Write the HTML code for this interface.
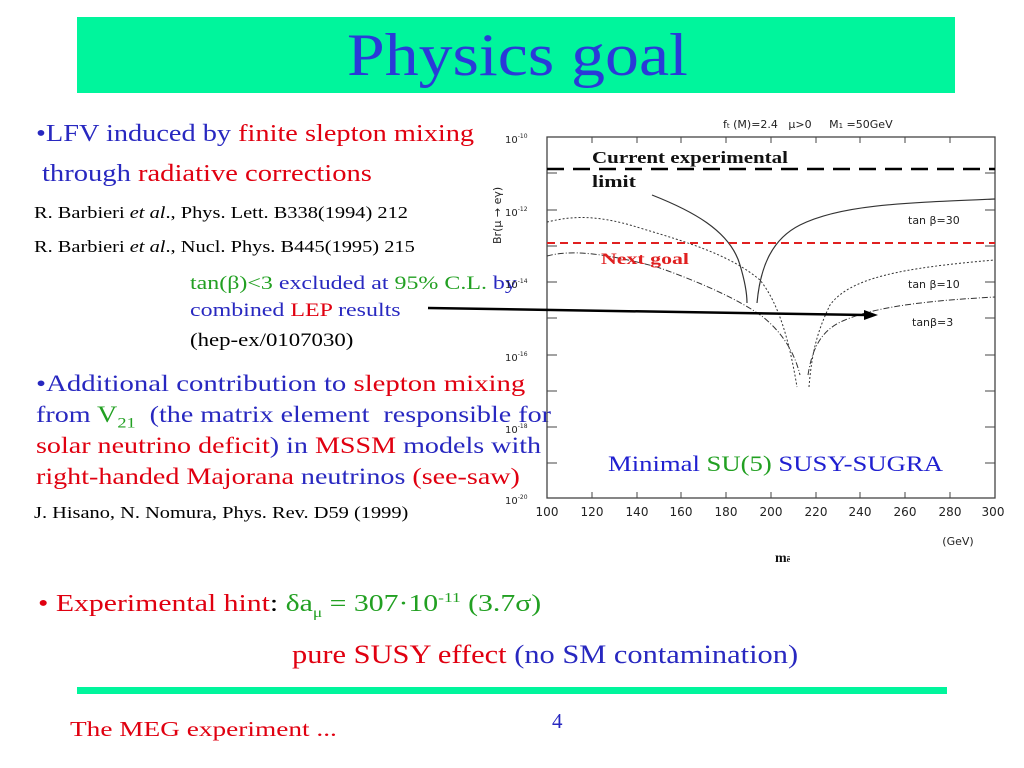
<!DOCTYPE html>
<html><head><meta charset="utf-8"><style>
body{margin:0;width:1024px;height:768px;background:#fff;position:relative;overflow:hidden;font-family:"Liberation Serif",serif}
.t{position:absolute;white-space:nowrap;line-height:1;transform-origin:0 0}
.b{color:#2828c0}.r{color:#e00010}.g{color:#22a022}.k{color:#000}
</style></head><body>
<div style="position:absolute;left:77px;top:17px;width:878px;height:76px;background:#00f59c"></div>
<div class="t" style="left:347px;top:25px;font-size:60px;color:#2a3ad8;transform:scaleX(1.13)">Physics goal</div>

<div class="t" style="left:36px;top:122px;font-size:24px;transform:scaleX(1.18)"><span class="b">•LFV induced by </span><span class="r">finite slepton mixing</span></div>
<div class="t" style="left:42px;top:162px;font-size:24px;transform:scaleX(1.19)"><span class="b">through </span><span class="r">radiative corrections</span></div>
<div class="t k" style="left:34px;top:204px;font-size:17px;transform:scaleX(1.2)">R. Barbieri <i>et al</i>., Phys. Lett. B338(1994) 212</div>
<div class="t k" style="left:34px;top:238px;font-size:17px;transform:scaleX(1.2)">R. Barbieri <i>et al</i>., Nucl. Phys. B445(1995) 215</div>
<div class="t" style="left:190px;top:274px;font-size:19px;transform:scaleX(1.26)"><span class="g">tan(β)&lt;3</span><span class="b"> excluded at </span><span class="g">95% C.L.</span><span class="b"> by</span></div>
<div class="t" style="left:190px;top:301px;font-size:19px;transform:scaleX(1.26)"><span class="b">combined </span><span class="r">LEP</span><span class="b"> results</span></div>
<div class="t k" style="left:190px;top:331px;font-size:19px;transform:scaleX(1.2)">(hep-ex/0107030)</div>
<div class="t" style="left:36px;top:372px;font-size:23px;transform:scaleX(1.25)"><span class="b">•Additional contribution to </span><span class="r">slepton mixing</span></div>
<div class="t" style="left:36px;top:403px;font-size:23px;transform:scaleX(1.22)"><span class="b">from </span><span class="g">V<sub style="font-size:15px">21</sub></span><span class="b">&nbsp; (the matrix element&nbsp; responsible for</span></div>
<div class="t" style="left:36px;top:434px;font-size:23px;transform:scaleX(1.22)"><span class="r">solar neutrino deficit</span><span class="b">) in </span><span class="r">MSSM</span><span class="b"> models with</span></div>
<div class="t" style="left:36px;top:465px;font-size:23px;transform:scaleX(1.22)"><span class="r">right-handed Majorana </span><span class="b">neutrinos </span><span class="r">(see-saw)</span></div>
<div class="t k" style="left:34px;top:504px;font-size:17px;transform:scaleX(1.2)">J. Hisano, N. Nomura, Phys. Rev. D59 (1999)</div>

<svg style="position:absolute;left:0;top:0" width="1024" height="768" font-family="DejaVu Sans, sans-serif">
<g fill="none" stroke="#444" stroke-width="1.3">
<rect x="547" y="137" width="448" height="361"/>
<g stroke-width="1">
<path d="M547,137h10M547,173h10M547,210h10M547,246h10M547,282h10M547,318h10M547,355h10M547,391h10M547,427h10M547,463h10"/>
<path d="M995,173h-10M995,210h-10M995,246h-10M995,282h-10M995,318h-10M995,355h-10M995,391h-10M995,427h-10M995,463h-10"/>
<path d="M592,498v-6M637,498v-6M681,498v-6M726,498v-6M771,498v-6M816,498v-6M860,498v-6M905,498v-6M950,498v-6"/>
<path d="M592,137v6M637,137v6M681,137v6M726,137v6M771,137v6M816,137v6M860,137v6M905,137v6M950,137v6"/>
</g>
</g>
<g font-size="10" fill="#222">
<text x="505" y="143">10<tspan dy="-5" font-size="6">-10</tspan></text>
<text x="505" y="216">10<tspan dy="-5" font-size="6">-12</tspan></text>
<text x="505" y="288">10<tspan dy="-5" font-size="6">-14</tspan></text>
<text x="505" y="361">10<tspan dy="-5" font-size="6">-16</tspan></text>
<text x="505" y="433">10<tspan dy="-5" font-size="6">-18</tspan></text>
<text x="505" y="504">10<tspan dy="-5" font-size="6">-20</tspan></text>
</g>
<g font-size="12" fill="#222" text-anchor="middle">
<text x="547" y="516">100</text><text x="592" y="516">120</text><text x="637" y="516">140</text><text x="681" y="516">160</text><text x="726" y="516">180</text><text x="771" y="516">200</text><text x="816" y="516">220</text><text x="860" y="516">240</text><text x="905" y="516">260</text><text x="950" y="516">280</text><text x="993" y="516">300</text>
</g>
<text x="958" y="545" font-size="11" fill="#222" text-anchor="middle">(GeV)</text>
<text x="775" y="562" font-size="14" font-weight="bold" font-family="Liberation Serif,serif" fill="#111">m<tspan font-size="8">ẽ</tspan></text>
<text x="723" y="128" font-size="11" fill="#222">f<tspan font-size="7">t</tspan> (M)=2.4&#160;&#160; μ&gt;0&#160;&#160;&#160;&#160; M<tspan font-size="7">1</tspan> =50GeV</text>
<text transform="translate(501,244) rotate(-90)" font-size="11" fill="#222">Br(μ → eγ)</text>
<g font-size="11" fill="#222">
<text x="908" y="224">tan β=30</text><text x="908" y="288">tan β=10</text><text x="912" y="326">tanβ=3</text>
</g>
<g fill="none" stroke="#333">
<path d="M652,195 C690,210 730,230 740,265 C746,285 747,295 747,303" stroke-width="1.2"/>
<path d="M757,303 C760,270 770,240 800,225 C840,205 900,203 995,199" stroke-width="1.2"/>
<path d="M547,222 C565,218 590,212 640,228 C690,243 730,255 760,280 C780,305 790,345 797,387" stroke-dasharray="2,2" stroke-width="1"/>
<path d="M809,387 C812,350 818,330 830,305 C850,278 900,268 995,260" stroke-dasharray="2,2" stroke-width="1"/>
<path d="M547,256 C570,250 600,252 657,267 C700,282 740,300 763,317 C785,335 795,355 800,375" stroke-dasharray="6,2,1,2" stroke-width="1"/>
<path d="M808,375 C812,350 820,330 845,320 C880,305 940,300 995,297" stroke-dasharray="6,2,1,2" stroke-width="1"/>
</g>
<line x1="547" y1="169" x2="995" y2="169" stroke="#000" stroke-width="2.5" stroke-dasharray="17,9"/>
<line x1="547" y1="243" x2="995" y2="243" stroke="#e02020" stroke-width="2" stroke-dasharray="8,5"/>
<line x1="428" y1="308" x2="866" y2="315" stroke="#000" stroke-width="2.5"/>
<polygon points="878,315 864,310 864,320" fill="#000"/>
<text x="592" y="163" font-family="Liberation Serif,serif" font-weight="bold" font-size="17" fill="#111" textLength="196" lengthAdjust="spacingAndGlyphs">Current experimental</text>
<text x="592" y="187" font-family="Liberation Serif,serif" font-weight="bold" font-size="17" fill="#111" textLength="44" lengthAdjust="spacingAndGlyphs">limit</text>
<text x="601" y="264" font-family="Liberation Serif,serif" font-weight="bold" font-size="16" fill="#e02020" textLength="88" lengthAdjust="spacingAndGlyphs">Next goal</text>
<text x="608" y="471" font-family="Liberation Serif,serif" font-size="22" textLength="335" lengthAdjust="spacingAndGlyphs"><tspan fill="#2020d0">Minimal </tspan><tspan fill="#22a022">SU(5)</tspan><tspan fill="#2020d0"> SUSY-SUGRA</tspan></text>
</svg>

<div class="t" style="left:38px;top:592px;font-size:24px;transform:scaleX(1.24)"><span class="r">• Experimental hint</span><span class="k">: </span><span class="g">δa<sub style="font-size:14px">μ</sub> = 307·10<sup style="font-size:14px">-11</sup> (3.7σ)</span></div>
<div class="t" style="left:292px;top:642px;font-size:26px;transform:scaleX(1.17)"><span class="r">pure SUSY effect </span><span class="b">(no SM contamination)</span></div>
<div style="position:absolute;left:77px;top:687px;width:870px;height:7px;background:#00f59c"></div>
<div class="t r" style="left:70px;top:719px;font-size:21px;transform:scaleX(1.3)">The MEG experiment ...</div>
<div class="t b" style="left:552px;top:711px;font-size:21px">4</div>
</body></html>
